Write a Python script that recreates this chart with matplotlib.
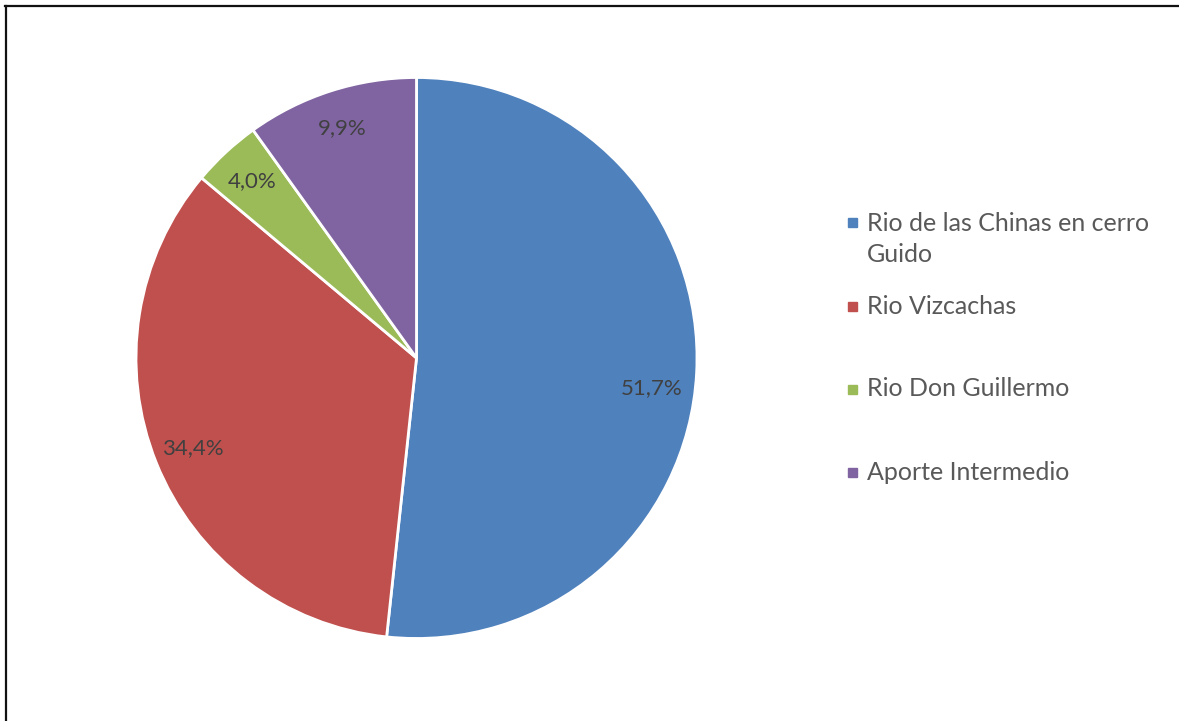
import matplotlib
matplotlib.use("Agg")
import matplotlib.pyplot as plt
from matplotlib.lines import Line2D
from matplotlib.patches import Rectangle

plt.rcParams['font.family'] = ['Lato', 'DejaVu Sans']

categories = ['Rio de las Chinas en cerro\nGuido', 'Rio Vizcachas',
              'Rio Don Guillermo', 'Aporte Intermedio']
shares = [51.7, 34.4, 4.0, 9.9]
colors = ['#4F81BD', '#C0504D', '#9BBB59', '#8064A2']

W, H = 1179, 721
fig = plt.figure(figsize=(W / 100, H / 100), dpi=100)

# pie axes: centre (416, 358) px, radius 280 px
cx, cy, r = 416.5, 358, 280.5
ax = fig.add_axes([(cx - r) / W, (H - cy - r) / H, 2 * r / W, 2 * r / H])
wedges, texts, autotexts = ax.pie(
    shares, colors=colors, startangle=90, counterclock=False,
    autopct=lambda p: f'{p:.1f}%'.replace('.', ','), pctdistance=0.86,
    wedgeprops=dict(edgecolor='white', linewidth=2),
    textprops=dict(color='#404040', fontsize=16))
# the big slice's label sits a bit lower
x, y = autotexts[0].get_position()
autotexts[0].set_position((x - 0.02, y - 0.06))
ax.set_xlim(-1, 1)
ax.set_ylim(-1, 1)
ax.set_aspect('equal')
ax.axis('off')

# legend drawn by hand so the wrapped first entry sits like the original
leg_y = [222, 306, 389, 472]
line_h = 34
for lab, col, y in zip(categories, colors, leg_y):
    fig.add_artist(Rectangle((848 / W, (H - y - 4.5) / H), 9 / W, 9 / H,
                             transform=fig.transFigure, color=col))
    n = lab.count('\n')
    ty = y + n * line_h / 2
    fig.text(867 / W, (H - ty) / H, lab, color='#595959', fontsize=18,
             va='center', linespacing=1.38, transform=fig.transFigure)

# frame round the chart area (cut off at right and bottom)
fig.add_artist(Line2D([5 / W, 1], [(H - 5.5) / H] * 2, color='#111111', lw=1.6,
                      transform=fig.transFigure))
fig.add_artist(Line2D([5.5 / W] * 2, [0, (H - 5.5) / H], color='#111111', lw=1.6,
                      transform=fig.transFigure))

fig.savefig('out.png', dpi=100, facecolor='white')
